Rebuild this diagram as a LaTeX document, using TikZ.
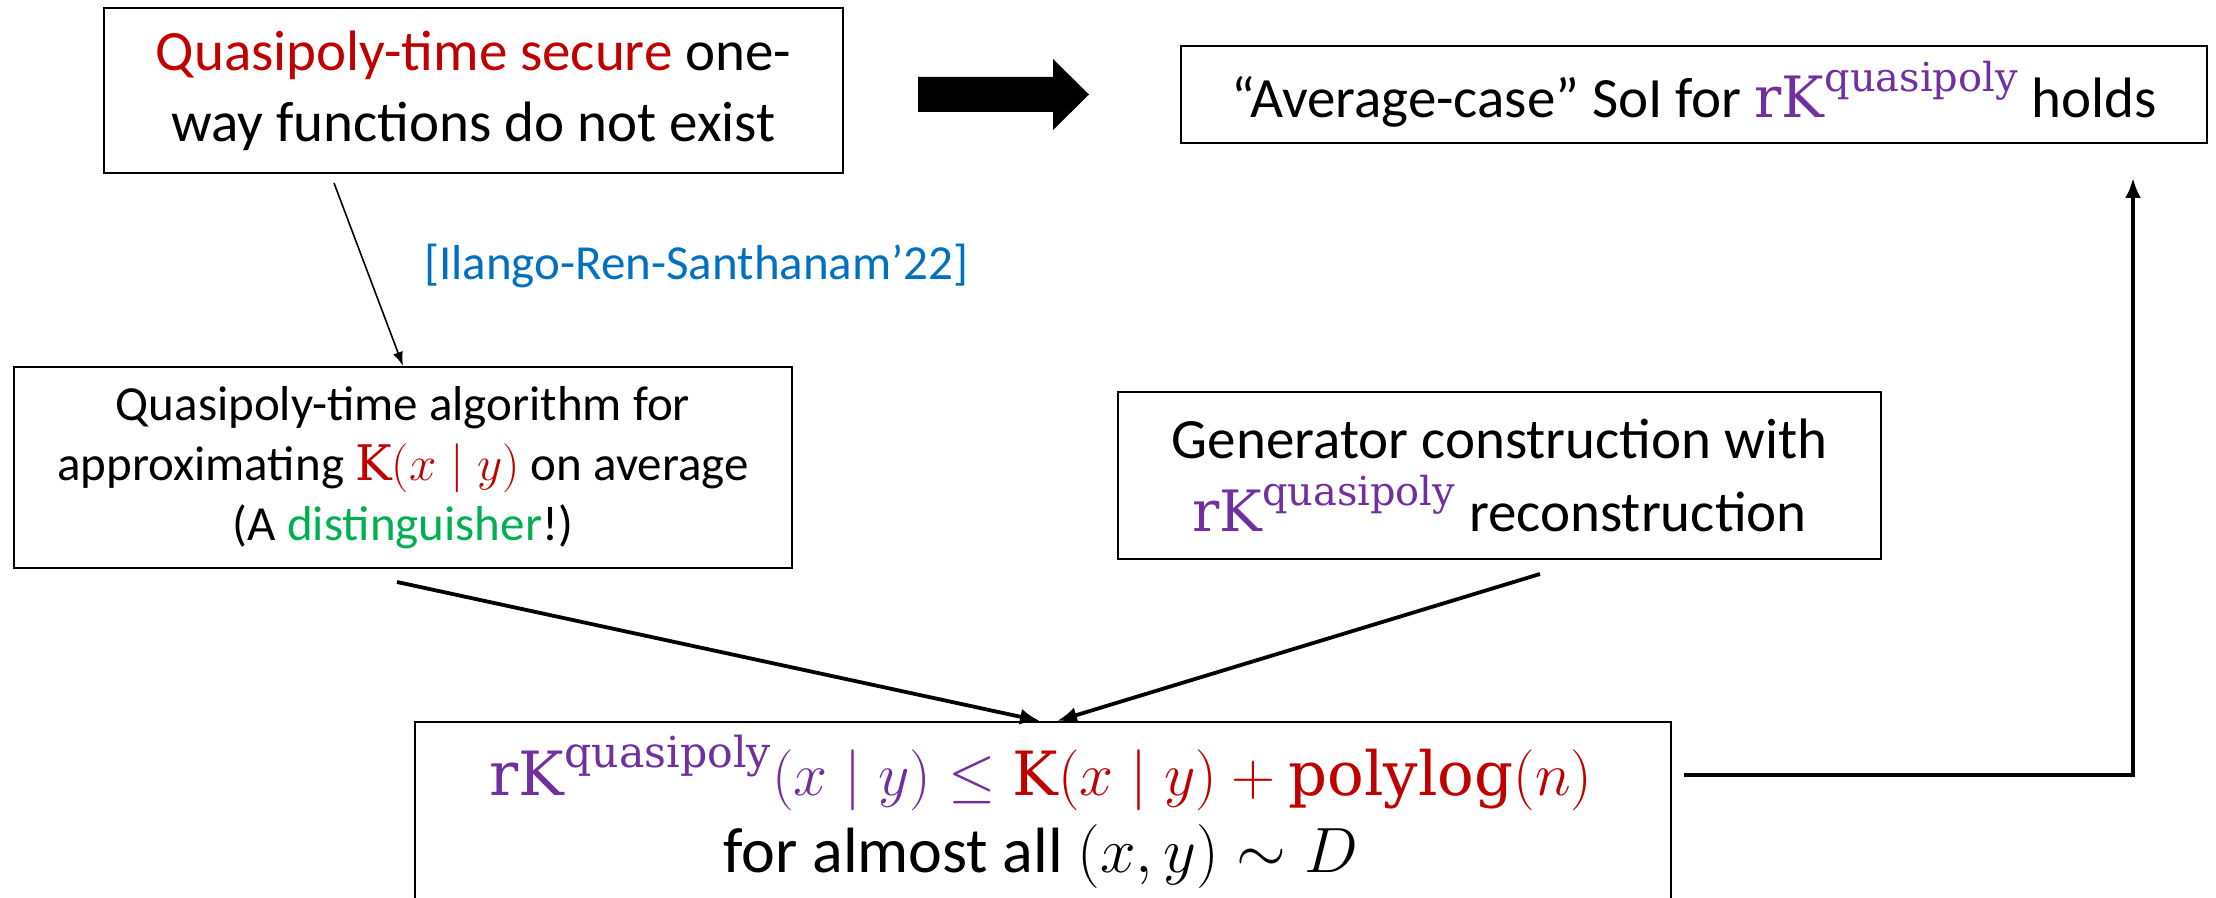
\RequirePackage{fix-cm}
\documentclass[tikz,border=0pt]{standalone}
\usepackage{amsmath}
\usepackage[no-math]{fontspec}
\setmainfont{Carlito}
\newfontfamily\serifup{DejaVu Serif}
\usetikzlibrary{arrows.meta}

\definecolor{qred}{RGB}{192,0,0}
\definecolor{qpurple}{RGB}{112,48,160}
\definecolor{qgreen}{RGB}{0,176,80}
\definecolor{qblue}{RGB}{0,112,192}

% upright serif pieces inside formulas
\newcommand{\sertext}[1]{\text{\serifup #1}}
\newcommand{\rKq}{\sertext{rK}^{\sertext{quasipoly}}}

\tikzset{
  box/.style={draw=black, line width=1.1pt, fill=white, align=center,
              inner sep=0pt, text=black},
  txtA/.style={font=\fontsize{28.5pt}{35.5pt}\selectfont},
  txtB/.style={font=\fontsize{24.5pt}{30pt}\selectfont},
  txtC/.style={font=\fontsize{28.5pt}{36.5pt}\selectfont},
  txtD/.style={font=\fontsize{30.5pt}{38pt}\selectfont},
  txtE/.style={font=\fontsize{32pt}{38pt}\selectfont},
  thinarrow/.style={line width=0.8pt, -{Latex[length=7pt,width=5pt]}},
  thickarrow/.style={line width=1.9pt, -{Latex[length=10pt,width=8pt]}},
  citestyle/.style={text=qblue, font=\fontsize{24.5pt}{30pt}\selectfont, inner sep=0pt}
}

\begin{document}
\begin{tikzpicture}[x=0.5pt, y=-0.5pt]
  \useasboundingbox (0,0) rectangle (2216,898);

  % boxes
  \node[box, txtA, minimum width=369.5pt, minimum height=82.5pt] (owf) at (473.5,90.5)
    {{\color{qred}Quasipoly-time secure} one-\\way functions do not exist};
  \node[box, txtA, minimum width=513pt, minimum height=48.5pt] (soi) at (1694,94.5)
    {“Average-case” SoI for {\color{qpurple}$\rKq$} holds};
  \node[box, txtB, minimum width=389pt, minimum height=100.5pt] (alg) at (403,467.5)
    {Quasipoly-time algorithm for\\approximating {\color{qred}$\sertext{K}(x\mid y)$} on average\\(A {\color{qgreen}distinguisher}!)};
  \node[box, txtC, minimum width=381.5pt, minimum height=83.5pt] (gen) at (1499.5,475.5)
    {Generator construction with\\{\color{qpurple}$\rKq$} reconstruction};
  \node[box, minimum width=628pt, minimum height=120pt, anchor=north] (ineq) at (1043,721) {};
  \node[txtD, anchor=base, inner sep=0pt] (ineqA) at (1041,795)
    {$\color{qpurple}\rKq(x\mid y)\le
      \color{qred}\sertext{K}(x\mid y)+\sertext{polylog}(n)$};
  \node[txtE, anchor=base, inner sep=0pt] (ineqB) at (1041,872)
    {for almost all $(x,y)\sim D$};

  % implication arrow between the top boxes
  \fill[black] (918,77) -- (1053,77) -- (1053,59) -- (1089,94.5) -- (1053,130)
    -- (1053,112) -- (918,112) -- cycle;

  % citation
  \node[citestyle, anchor=east] (cite) at (969,266) {[Ilango-Ren-Santhanam’22]};

  % connectors
  \coordinate (owfout) at (334,183);
  \draw[thinarrow] (owfout) -- (alg.north);

  \coordinate (algout) at (397,582);
  \coordinate (genout) at (1540,574);
  \draw[thickarrow] (algout) -- ([xshift=-1.5pt]ineq.north);
  \draw[thickarrow] (genout) -- ([xshift=7pt]ineq.north);

  \coordinate (ineqout) at (1684,775);
  \coordinate (soiin) at (2133,178);
  \draw[thickarrow] (ineqout) -| (soiin);
\end{tikzpicture}
\end{document}
